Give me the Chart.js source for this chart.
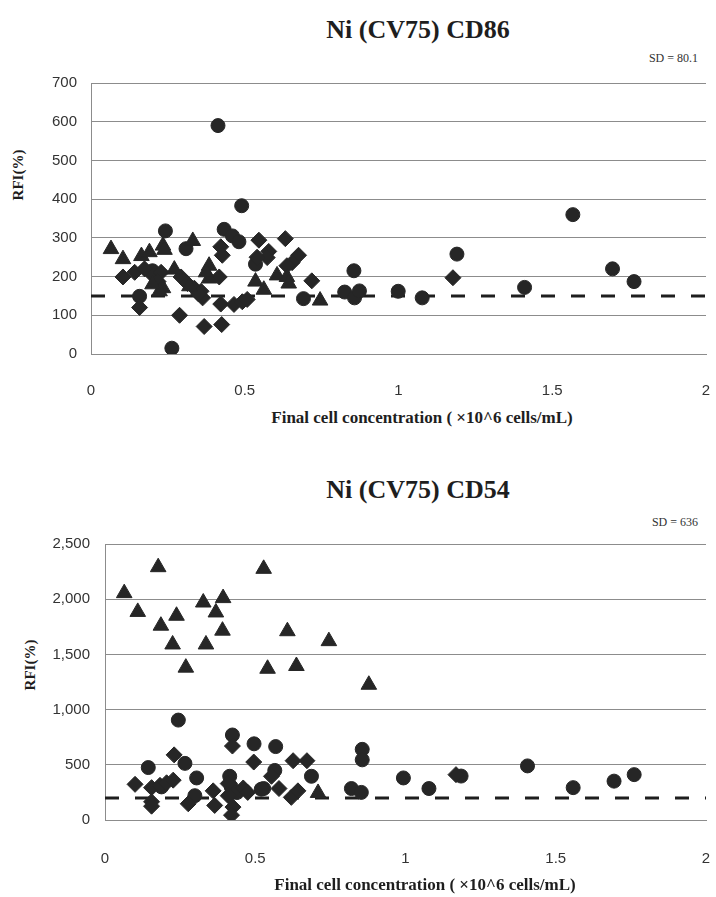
<!DOCTYPE html>
<html>
<head>
<meta charset="utf-8">
<script src="https://cdn.jsdelivr.net/npm/chart.js@4.4.1/dist/chart.umd.min.js"></script>
<style>
    html, body { margin: 0; padding: 0; background: #fff; }
    body { width: 716px; height: 897px; position: relative; overflow: hidden; }
    canvas { position: absolute; left: 0; }
    .txt { position: absolute; white-space: nowrap; color: #1e1e1e; transform: translate(-50%, -50%); }
    .title { font: bold 26px "Liberation Serif", "Times New Roman", serif; }
    .xtitle { font: bold 17px "Liberation Serif", "Times New Roman", serif; }
    .ytitle { font: bold 15px "Liberation Serif", "Times New Roman", serif; transform: translate(-50%, -50%) rotate(-90deg); }
    .sd { font: 12px "Liberation Serif", "Times New Roman", serif; transform: translate(-100%, -50%); color: #333; }
</style>
</head>
<body>
<div class="txt title" style="left:418px; top:30px;">Ni (CV75) CD86</div>
<div class="txt sd" style="left:698px; top:58px;">SD = 80.1</div>
<div class="txt ytitle" style="left:18px; top:175px;">RFI(%)</div>
<canvas id="cd86Chart" width="716" height="345" style="top:60px;"></canvas>
<div class="txt xtitle" style="left:422px; top:418px;">Final cell concentration ( ×10^6 cells/mL)</div>

<div class="txt title" style="left:418px; top:490px;">Ni (CV75) CD54</div>
<div class="txt sd" style="left:698px; top:522px;">SD = 636</div>
<div class="txt ytitle" style="left:30px; top:665px;">RFI(%)</div>
<canvas id="cd54Chart" width="716" height="370" style="top:520px;"></canvas>
<div class="txt xtitle" style="left:425px; top:885px;">Final cell concentration ( ×10^6 cells/mL)</div>

<script>
// x ticks shared by both panels
const xTicks = [0, 0.5, 1, 1.5, 2];

// CD86 panel: [cell concentration, RFI]
const cd86Circles = [
    [0.413, 590], [0.49, 383], [1.567, 360], [0.242, 318], [0.433, 322], [0.46, 305],
    [0.481, 290], [0.309, 272], [0.535, 232], [0.158, 149], [0.263, 15], [0.691, 143],
    [0.825, 160], [0.857, 145], [0.873, 163], [0.855, 215], [0.999, 162], [1.077, 145],
    [1.19, 258], [1.41, 172], [1.696, 220], [1.766, 187], [0.2, 215]
];
const cd86Diamonds = [
    [0.104, 199], [0.142, 211], [0.174, 220], [0.201, 203], [0.228, 211], [0.218, 187],
    [0.158, 120], [0.293, 199], [0.314, 182], [0.336, 170], [0.358, 162], [0.363, 145],
    [0.35, 155], [0.288, 100], [0.368, 71], [0.425, 76], [0.422, 129], [0.465, 128],
    [0.492, 135], [0.508, 141], [0.422, 277], [0.427, 255], [0.417, 199], [0.546, 294],
    [0.632, 298], [0.578, 265], [0.573, 249], [0.54, 250], [0.675, 255], [0.654, 236],
    [0.637, 228], [0.718, 189], [1.177, 197]
];
const cd86Triangles = [
    [0.065, 271], [0.104, 245], [0.164, 253], [0.19, 263], [0.234, 280], [0.239, 269],
    [0.271, 218], [0.234, 170], [0.223, 162], [0.2, 180], [0.331, 292], [0.384, 228],
    [0.384, 195], [0.374, 211], [0.32, 175], [0.605, 203], [0.637, 199], [0.643, 182],
    [0.535, 187], [0.562, 166], [0.745, 138]
];
const cd86Max = 700;
const cd86Step = 100;
const cd86Threshold = 150;

// CD54 panel
const cd54Circles = [
    [0.244, 905], [0.424, 770], [0.496, 690], [0.568, 665], [0.266, 513], [0.144, 475],
    [0.305, 381], [0.856, 640], [0.856, 545], [0.565, 449], [0.687, 396], [0.993, 381],
    [1.078, 285], [1.185, 398], [1.406, 490], [1.558, 293], [1.694, 352], [1.761, 411],
    [0.528, 285], [0.82, 285], [0.853, 250], [0.415, 396], [0.299, 220], [0.188, 300],
    [0.52, 279], [0.42, 300], [0.44, 250]
];
const cd54Diamonds = [
    [0.23, 590], [0.424, 670], [0.495, 525], [0.626, 537], [0.672, 537], [0.554, 396],
    [1.168, 411], [0.1, 323], [0.155, 293], [0.183, 314], [0.205, 337], [0.227, 361],
    [0.155, 165], [0.155, 125], [0.277, 147], [0.36, 264], [0.365, 132], [0.426, 117],
    [0.421, 44], [0.579, 285], [0.62, 205], [0.642, 264], [0.41, 330], [0.46, 290],
    [0.475, 250], [0.41, 220]
];
const cd54Triangles = [
    [0.177, 2290], [0.528, 2275], [0.064, 2055], [0.109, 1885], [0.327, 1970], [0.393, 2010],
    [0.369, 1880], [0.238, 1850], [0.186, 1760], [0.391, 1715], [0.225, 1590], [0.336, 1590],
    [0.607, 1710], [0.745, 1620], [0.269, 1380], [0.541, 1370], [0.637, 1395], [0.878, 1225],
    [0.709, 245]
];
const cd54Max = 2500;
const cd54Step = 500;
const cd54Threshold = 200;

const MARK = '#262626';
const GRID = '#8c8c8c';
const TICK_FONT = { family: '"Liberation Sans Narrow", "Liberation Sans", Arial, sans-serif', size: 15 };

function toPoints(list) {
    return list.map((p) => ({ x: p[0], y: p[1] }));
}

function markerSet(list, style, radius) {
    return {
        type: 'scatter',
        data: toPoints(list),
        pointStyle: style,
        pointRadius: radius,
        pointHoverRadius: radius,
        backgroundColor: MARK,
        borderColor: MARK,
        borderWidth: 1,
        order: 1
    };
}

function buildChart(id, sets, opts) {
    const canvas = document.getElementById(id);
    const xMin = xTicks[0];
    const xMax = xTicks[xTicks.length - 1];
    return new Chart(canvas.getContext('2d'), {
        type: 'scatter',
        data: {
            datasets: [
                {
                    type: 'line',
                    data: [{ x: xMin, y: opts.threshold }, { x: xMax, y: opts.threshold }],
                    borderColor: '#1e1e1e',
                    borderWidth: 3,
                    borderDash: [14, 16],
                    pointRadius: 0,
                    fill: false,
                    order: 5
                },
                markerSet(sets.triangles, 'triangle', 9),
                markerSet(sets.diamonds, 'rectRot', 8),
                markerSet(sets.circles, 'circle', 7)
            ]
        },
        options: {
            responsive: false,
            animation: false,
            devicePixelRatio: 1,
            layout: { padding: { top: opts.top, right: opts.right, left: 0, bottom: 0 } },
            plugins: { legend: { display: false }, tooltip: { enabled: false }, title: { display: false } },
            scales: {
                x: {
                    type: 'linear',
                    min: xMin,
                    max: xMax,
                    afterFit: (s) => {
                        s.height = opts.xHeight;
                        s.paddingRight = 0;
                        s.paddingLeft = 0;
                    },
                    afterBuildTicks: (s) => { s.ticks = xTicks.map((v) => ({ value: v })); },
                    grid: { display: false },
                    border: { display: true, color: GRID, width: 1 },
                    ticks: {
                        color: '#333',
                        font: TICK_FONT,
                        padding: opts.xPad,
                        maxRotation: 0,
                        callback: (v) => String(v)
                    }
                },
                y: {
                    min: 0,
                    max: opts.max,
                    afterFit: (s) => { s.width = opts.left; },
                    grid: { color: GRID, lineWidth: 1, drawTicks: false },
                    border: { display: true, color: GRID, width: 1 },
                    ticks: {
                        stepSize: opts.step,
                        color: '#333',
                        font: TICK_FONT,
                        padding: opts.yPad,
                        callback: (v) => v.toLocaleString('en-US')
                    }
                }
            }
        }
    });
}

buildChart('cd86Chart',
    { circles: cd86Circles, diamonds: cd86Diamonds, triangles: cd86Triangles },
    { threshold: cd86Threshold, max: cd86Max, step: cd86Step, top: 11, right: 6, xHeight: 51, left: 91, xPad: 20, yPad: 14 });

buildChart('cd54Chart',
    { circles: cd54Circles, diamonds: cd54Diamonds, triangles: cd54Triangles },
    { threshold: cd54Threshold, max: cd54Max, step: cd54Step, top: 16, right: 10, xHeight: 70, left: 105, xPad: 22, yPad: 15 });
</script>
</body>
</html>
